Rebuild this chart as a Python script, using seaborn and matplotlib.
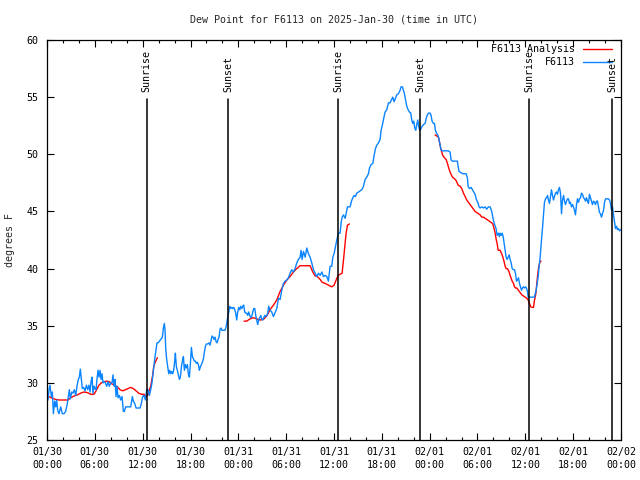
import numpy as np
import pandas as pd
import matplotlib
matplotlib.use("Agg")
import matplotlib.pyplot as plt
import seaborn as sns

# ---------------- data (hours since 2025-01-30 00:00 UTC, degrees F) ----------------
obs_hours = [
    0.13, 0.25, 0.38, 0.54, 0.67, 0.80, 0.96, 1.09, 1.21, 1.34, 1.51, 1.72, 1.92, 2.13, 2.34, 2.55,
    2.68, 2.80, 2.93, 3.10, 3.26, 3.43, 3.60, 3.76, 3.93, 4.06, 4.18, 4.31, 4.43, 4.60, 4.77, 4.94,
    5.10, 5.27, 5.40, 5.52, 5.65, 5.77, 5.90, 6.02, 6.15, 6.27, 6.40, 6.53, 6.65, 6.78, 6.90, 7.03,
    7.15, 7.32, 7.49, 7.65, 7.82, 7.99, 8.16, 8.28, 8.41, 8.53, 8.66, 8.78, 8.91, 9.08, 9.24, 9.41,
    9.58, 9.70, 9.87, 10.08, 10.29, 10.50, 10.71, 10.83, 11.00, 11.17, 11.42, 11.67, 11.84, 11.96,
    12.09, 12.21, 12.34, 12.51, 12.67, 12.84, 13.01, 13.17, 13.30, 13.42, 13.55, 13.68, 13.80, 13.93,
    14.05, 14.26, 14.47, 14.60,
    14.72, 14.81, 14.89, 15.02, 15.14, 15.27, 15.39, 15.52, 15.64, 15.77, 15.89, 16.02, 16.10, 16.23,
    16.35, 16.48, 16.61, 16.73, 16.86, 16.98, 17.11, 17.23, 17.36, 17.48, 17.61, 17.73, 17.86, 17.99,
    18.11, 18.24, 18.36, 18.49, 18.61, 18.74, 18.86, 18.99, 19.11, 19.24, 19.37, 19.49, 19.62, 19.74,
    19.87, 19.99, 20.16, 20.33, 20.45, 20.58, 20.70, 20.83, 20.95, 21.08, 21.21, 21.33, 21.46, 21.58,
    21.71, 21.83, 21.96, 22.08, 22.21, 22.33, 22.46, 22.59, 22.67, 22.80, 22.92, 23.05, 23.17, 23.30,
    23.42, 23.55, 23.67, 23.80, 23.92, 24.05, 24.18, 24.30, 24.43, 24.55, 24.68, 24.80, 24.93, 25.05,
    25.18, 25.30, 25.43, 25.56, 25.68, 25.81, 25.93, 26.06, 26.18, 26.31, 26.43, 26.56, 26.68, 26.81,
    26.93, 27.06, 27.19, 27.31, 27.44, 27.56, 27.69, 27.81, 27.94,
    28.19, 28.40, 28.82, 29.03, 29.24, 29.45, 29.66, 29.87, 30.08, 30.29, 30.49, 30.70, 30.91, 31.12,
    31.33, 31.54, 31.75, 31.87, 32.00, 32.17, 32.38, 32.59, 32.79, 33.00, 33.21, 33.42, 33.63, 33.84,
    34.05, 34.26, 34.47, 34.68, 34.89, 35.10, 35.30, 35.51, 35.72, 35.85, 36.01, 36.18, 36.35, 36.56,
    36.77, 36.89, 37.02, 37.19, 37.40, 37.52, 37.69, 37.86, 38.02, 38.19, 38.36, 38.52, 38.69, 38.86,
    39.07, 39.28, 39.49, 39.70, 39.90, 40.11, 40.32, 40.45, 40.66, 40.87, 41.03, 41.20, 41.37, 41.58,
    41.78, 41.91, 42.11, 42.28, 42.41, 42.62, 42.83, 43.03, 43.24, 43.37, 43.54, 43.70, 43.87, 44.08,
    44.29, 44.41, 44.58, 44.71, 44.83, 44.96, 45.13, 45.29, 45.46, 45.63, 45.75, 45.88, 46.00, 46.13,
    46.26, 46.38, 46.51, 46.63, 46.76, 46.88, 47.01, 47.22, 47.43, 47.55, 47.68, 47.84, 48.05, 48.18,
    48.30, 48.47, 48.60, 48.72, 48.89, 49.02, 49.14, 49.31, 49.43, 49.56, 49.85, 50.14, 50.35, 50.56,
    50.69, 50.86, 51.06, 51.32, 51.48, 51.57, 51.69, 51.90, 52.15, 52.44, 52.57, 52.74, 52.82, 52.99,
    53.20, 53.37, 53.53, 53.70, 53.83, 53.95, 54.08, 54.20, 54.33, 54.54, 54.75, 54.95, 55.16, 55.37,
    55.58, 55.79, 55.92, 56.04, 56.17, 56.33, 56.46, 56.63, 56.75,
    56.84, 56.97, 57.09, 57.22, 57.34, 57.47, 57.59, 57.72, 57.84, 57.97, 58.09, 58.22, 58.35, 58.51,
    58.64, 58.76, 58.89, 59.01, 59.14, 59.27, 59.39, 59.52, 59.64, 59.77, 59.89, 60.02, 60.14, 60.27,
    60.35, 60.52, 60.73, 60.94, 61.15, 61.23, 61.36, 61.48, 61.61, 61.73, 61.86, 61.98, 62.07, 62.15,
    62.24, 62.32, 62.40, 62.53, 62.65, 62.78, 62.90, 63.03, 63.15, 63.28, 63.41, 63.53, 63.66, 63.78,
    63.91, 64.03, 64.16, 64.28, 64.41, 64.54, 64.66, 64.79, 64.91, 65.04, 65.16, 65.29, 65.41, 65.54,
    65.66, 65.79, 65.92, 66.04, 66.17, 66.29, 66.42, 66.54, 66.67, 66.79, 66.92, 67.04, 67.17, 67.30,
    67.42, 67.55, 67.67, 67.80, 67.92, 68.05, 68.17, 68.30, 68.42, 68.55, 68.68, 68.80, 68.93, 69.05,
    69.18, 69.30, 69.43, 69.55, 69.68, 69.81, 69.93, 70.06, 70.22, 70.43, 70.56, 70.68, 70.81, 70.93,
    71.06, 71.19, 71.31, 71.44, 71.56, 71.69, 71.81, 71.98,
]
obs_dewpoint = [
    28.5, 29.4, 29.8, 28.8, 29.2, 27.3, 28.4, 27.9, 28.5, 27.6, 27.3, 27.9, 27.3, 27.3, 27.5, 28.2,
    28.8, 29.4, 28.6, 29.2, 29.1, 29.4, 28.9, 29.7, 30.3, 30.5, 31.2, 30.3, 29.5, 29.6, 29.3, 29.8,
    29.4, 29.8, 29.2, 30.1, 30.5, 29.1, 29.7, 29.5, 29.4, 30.3, 31.1, 30.5, 31.1, 30.3, 30.8, 30.0,
    30.1, 30.0, 29.7, 30.1, 29.7, 30.0, 30.0, 30.7, 29.7, 30.3, 28.8, 29.7, 28.7, 28.9, 28.5, 28.8,
    27.5, 27.5, 27.9, 27.9, 27.9, 27.9, 28.8, 28.4, 28.2, 27.8, 27.8, 27.8, 28.2, 28.7,
    28.9, 28.8, 28.5, 29.4, 29.4, 28.9, 29.4, 30.0, 30.8, 31.6, 32.3, 32.9, 33.5, 33.5,
    33.6, 33.8, 34.0, 34.8,
    35.2, 34.6, 33.0, 32.0, 31.4, 30.8, 31.1, 30.8, 31.0, 30.8, 31.1, 31.9, 32.6, 31.4,
    31.1, 30.7, 30.3, 30.5, 31.4, 31.9, 32.3, 31.1, 31.6, 31.3, 31.6, 30.8, 30.5, 31.7,
    33.1, 32.3, 32.1, 31.9, 31.9, 31.7, 31.8, 31.6, 31.1, 31.4, 31.6, 31.8, 32.1, 32.7,
    33.2, 33.4, 33.4, 33.5, 33.3, 33.7, 34.1, 34.0, 33.8, 34.0, 33.6, 33.5, 33.8, 34.0,
    34.7, 34.8, 34.6, 34.6, 34.6, 34.6, 34.9, 35.4, 35.8, 36.2, 36.7, 36.5, 36.6, 36.5,
    36.6, 36.4, 36.1, 35.5, 36.2, 36.6, 36.4, 36.7, 36.5, 36.7, 36.8, 36.2, 36.1, 36.1,
    35.9, 36.2, 35.9, 35.7, 35.8, 36.2, 36.5, 36.5, 35.9, 35.5, 35.1, 35.5, 35.7, 35.9,
    35.6, 35.5, 35.7, 35.9, 35.8, 35.9, 36.1, 36.7, 36.4,
    36.2, 35.8, 36.5, 37.4, 37.3, 38.1, 38.7, 38.9, 39.0, 39.2, 39.6, 39.9, 39.7, 40.0,
    40.5, 40.8, 41.0, 41.6, 40.8, 41.5, 41.0, 41.8, 41.3, 41.0, 40.5, 39.9, 39.6, 39.3,
    39.6, 39.4, 39.7, 39.3, 39.4, 39.3, 38.9, 40.2, 40.2, 41.0, 41.3, 41.9, 42.5, 43.1,
    43.1, 44.0, 44.5, 44.7, 44.4, 44.8, 45.4, 45.4, 45.4, 45.9, 46.2, 46.4, 46.3, 46.6,
    46.7, 46.8, 46.9, 47.2, 47.8, 48.0, 48.3, 48.8, 49.1, 49.2, 49.9, 50.5, 50.8, 51.0,
    51.3, 52.1, 52.7, 53.3, 53.7, 53.9, 54.5, 54.5, 54.8, 55.0, 54.6, 54.9, 55.2, 55.3,
    55.6, 55.9, 55.9, 55.6, 55.3, 54.8, 54.2, 53.9, 53.7, 53.6, 53.0, 52.7, 52.9, 52.3,
    52.1, 52.6, 53.0, 52.4, 52.1, 52.2, 52.4, 52.6, 52.7, 53.1, 53.4, 53.6, 53.6, 53.4,
    52.9, 52.7, 52.7, 52.1, 51.8, 51.7, 51.4, 50.8, 50.4, 50.3, 50.3, 50.3, 50.3, 50.2,
    49.5, 49.4, 49.4, 49.4, 49.4, 48.9, 48.5, 48.4, 48.3, 48.3, 48.3, 47.9, 47.2, 47.0,
    47.1, 46.9, 46.7, 46.5, 46.1, 45.9, 45.7, 45.4, 45.3, 45.4, 45.3, 45.4, 45.2, 45.4,
    45.4, 45.0, 44.5, 44.1, 43.8, 43.5, 42.9, 43.1, 42.8,
    43.1, 42.9, 43.1, 42.8, 42.2, 41.6, 41.0, 40.8, 41.0, 41.2, 40.8, 40.5, 40.0, 39.9,
    39.9, 39.6, 38.9, 39.0, 39.2, 38.7, 38.4, 38.1, 38.3, 38.4, 38.3, 38.4, 38.3, 38.0,
    37.5, 37.5, 37.5, 37.5, 37.5, 37.8, 38.1, 38.7, 39.3, 40.2, 41.0, 42.1, 42.9, 43.5,
    44.3, 45.0, 45.8, 46.1, 46.2, 46.4, 46.0, 45.7, 46.3, 46.9, 46.4, 46.0, 46.3, 46.6,
    46.7, 46.5, 46.9, 47.1, 46.6, 44.8, 46.0, 46.4, 45.9, 45.6, 45.9, 46.1, 46.1, 45.7,
    45.8, 45.4, 45.6, 45.4, 45.1, 44.7, 45.6, 46.1, 45.8, 46.1, 46.2, 46.6, 46.5, 46.2,
    46.1, 45.9, 46.2, 45.9, 45.7, 46.5, 46.2, 45.9, 45.6, 45.9, 45.8, 45.6, 45.9, 45.9,
    45.4, 44.9, 44.8, 44.5, 44.8, 45.1, 45.8, 46.1, 46.1, 46.1, 46.0, 45.7, 45.1, 45.4,
    44.7, 44.1, 43.5, 43.7, 43.4, 43.5, 43.3, 43.4,
]

# analysis series, three separate runs
ana_run = [1] * 42 + [2] * 38 + [3] * 76
ana_hours = [
    0.21, 0.67, 1.09, 1.51, 2.13, 2.64, 2.97, 3.39, 3.81, 4.22, 4.64, 5.06, 5.48, 5.90, 6.23, 6.52,
    6.82, 7.15, 7.49, 7.82, 8.16, 8.49, 8.82, 9.16, 9.49, 9.83, 10.16, 10.50, 10.83, 11.17, 11.50,
    11.84, 12.17, 12.42, 12.67, 12.84, 13.01, 13.13, 13.26, 13.38, 13.51, 13.84,
    24.72, 25.05, 25.47, 25.89, 26.31, 26.73, 27.15, 27.56, 27.98, 28.40, 28.82, 29.24, 29.66, 30.08,
    30.49, 30.91, 31.33, 31.75, 32.38, 33.00, 33.34, 33.63, 33.92, 34.26, 34.51, 34.89, 35.30, 35.72,
    36.01, 36.27, 36.52, 36.77, 37.02, 37.19, 37.35, 37.52, 37.69, 37.94,
    48.68, 49.10, 49.22, 49.39, 49.52, 49.64, 49.85, 50.06, 50.23, 50.35, 50.48, 50.65, 50.86, 51.06,
    51.32, 51.57, 51.82, 52.03, 52.24, 52.45, 52.65, 52.86, 53.07, 53.28, 53.49, 53.70, 53.91, 54.12,
    54.33, 54.54, 54.75, 54.95, 55.16, 55.37, 55.58, 55.79, 55.92, 56.08, 56.21, 56.33, 56.46, 56.59,
    56.84, 57.09, 57.22, 57.34, 57.47, 57.59, 57.72, 57.84, 57.97, 58.09, 58.22, 58.35, 58.51, 58.64,
    58.76, 58.93, 59.14, 59.35, 59.56, 59.77, 59.98, 60.19, 60.35, 60.52, 60.69, 60.90, 61.02, 61.15,
    61.32, 61.44, 61.57, 61.69, 61.86, 61.98,
]
ana_dewpoint = [
    28.8, 28.65, 28.55, 28.5, 28.5, 28.5, 28.7, 28.85, 28.95, 29.1, 29.2, 29.15, 29.0, 29.0, 29.4, 29.8,
    30.0, 30.1, 30.15, 30.1, 29.9, 29.8, 29.65, 29.4, 29.3, 29.4, 29.5, 29.6, 29.5, 29.3, 29.1,
    29.0, 29.0, 28.8, 28.95, 29.4, 29.7, 30.2, 30.7, 31.4, 31.7, 32.2,
    35.4, 35.4, 35.6, 35.7, 35.6, 35.5, 35.55, 35.85, 36.4, 36.8, 37.25, 38.0, 38.55, 39.0,
    39.3, 39.7, 40.0, 40.25, 40.25, 40.25, 39.7, 39.35, 39.3, 39.05, 38.8, 38.7, 38.55, 38.4,
    38.55, 39.0, 39.4, 39.5, 39.6, 40.75, 41.9, 43.1, 43.8, 43.9,
    51.7, 51.5, 51.1, 50.5, 50.2, 49.9, 49.7, 49.55, 49.2, 48.9, 48.6, 48.3, 48.0, 47.9,
    47.7, 47.3, 47.2, 47.0, 46.6, 46.3, 46.0, 45.8, 45.6, 45.4, 45.2, 45.0, 44.9, 44.8,
    44.7, 44.5, 44.5, 44.4, 44.3, 44.2, 44.1, 44.0, 43.9, 43.5, 43.1, 42.6, 42.2, 41.6,
    41.6, 41.2, 40.9, 40.6, 40.2, 40.0, 40.0, 39.9, 39.7, 39.4, 39.15, 38.9, 38.7, 38.4,
    38.3, 38.3, 38.1, 37.9, 37.7, 37.6, 37.5, 37.4, 37.25, 36.95, 36.65, 36.6, 36.6, 37.25,
    37.8, 38.7, 39.6, 40.2, 40.65, 40.65,
]

sunrise_hours = [12.51, 36.56, 60.52]
sunset_hours = [22.75, 46.84, 70.93]

xtick_hours = [0, 6, 12, 18, 24, 30, 36, 42, 48, 54, 60, 66, 72]
xtick_labels = ["01/30\n00:00", "01/30\n06:00", "01/30\n12:00", "01/30\n18:00",
                "01/31\n00:00", "01/31\n06:00", "01/31\n12:00", "01/31\n18:00",
                "02/01\n00:00", "02/01\n06:00", "02/01\n12:00", "02/01\n18:00",
                "02/02\n00:00"]
ytick_values = [25, 30, 35, 40, 45, 50, 55, 60]

title_text = "Dew Point for F6113 on 2025-Jan-30 (time in UTC)"
ylabel_text = "degrees F"
label_analysis = "F6113 Analysis"
label_obs = "F6113"

# ---------------- plot ----------------
sns.set_theme(style="ticks")
plt.rcParams["font.family"] = ["DejaVu Sans Mono"]
FS = 7.2

RED = "#ff0000"
BLUE = "#0a84ff"

obs_df = pd.DataFrame({"hour": obs_hours, "dewpoint": obs_dewpoint})
ana_df = pd.DataFrame({"hour": ana_hours, "dewpoint": ana_dewpoint, "run": ana_run})

fig = plt.figure(figsize=(6.4, 4.8), dpi=100)
ax = fig.add_axes([47 / 640, 1 - 440 / 480, 574 / 640, 400 / 480])

sns.lineplot(data=ana_df, x="hour", y="dewpoint", units="run", estimator=None,
             color=RED, linewidth=1.0, sort=False, ax=ax, legend=False)
sns.lineplot(data=obs_df, x="hour", y="dewpoint", estimator=None,
             color=BLUE, linewidth=1.0, sort=False, ax=ax, legend=False)

ax.set_xlim(0, 72)
ax.set_ylim(25, 60)
ax.set_xlabel("")
ax.set_ylabel("")

for h in sunrise_hours + sunset_hours:
    ax.axvline(h, ymin=0, ymax=0.853, color="black", linewidth=1.1)
for h in sunrise_hours:
    ax.text(h, 0.87, "Sunrise", rotation=90, ha="center", va="bottom",
            transform=ax.get_xaxis_transform(), fontsize=FS, color="black")
for h in sunset_hours:
    ax.text(h, 0.87, "Sunset", rotation=90, ha="center", va="bottom",
            transform=ax.get_xaxis_transform(), fontsize=FS, color="black")

ax.set_xticks(xtick_hours)
ax.set_xticklabels(xtick_labels, fontsize=FS, linespacing=1.35)
ax.set_xticks(np.arange(0, 73, 2), minor=True)
ax.set_yticks(ytick_values)
ax.set_yticklabels([str(v) for v in ytick_values], fontsize=FS)

ax.tick_params(axis="both", which="major", direction="in", length=5, width=0.8,
               top=True, right=True, color="black", labelcolor="black")
ax.tick_params(axis="x", which="minor", direction="in", length=2.5, width=0.8,
               top=True, bottom=True, color="black")
ax.tick_params(axis="x", which="major", pad=5)
ax.tick_params(axis="y", which="major", pad=6)
for sp in ax.spines.values():
    sp.set_visible(True)
    sp.set_color("black")
    sp.set_linewidth(0.9)

# legend (gnuplot style: right-aligned text followed by line sample)
for i, (lab, col) in enumerate([(label_analysis, RED), (label_obs, BLUE)]):
    yy = 0.977 - i * 0.0325
    ax.text(0.919, yy, lab, ha="right", va="center", transform=ax.transAxes,
            fontsize=FS, color="black")
    ax.plot([0.934, 0.984], [yy, yy], color=col, linewidth=1.0, transform=ax.transAxes)

fig.text(334 / 640, 1 - 19 / 480, title_text, ha="center", va="center", fontsize=FS)
fig.text(10 / 640, 0.5, ylabel_text, rotation=90, ha="center", va="center", fontsize=FS)

fig.savefig("out.png", dpi=100, facecolor="white")
